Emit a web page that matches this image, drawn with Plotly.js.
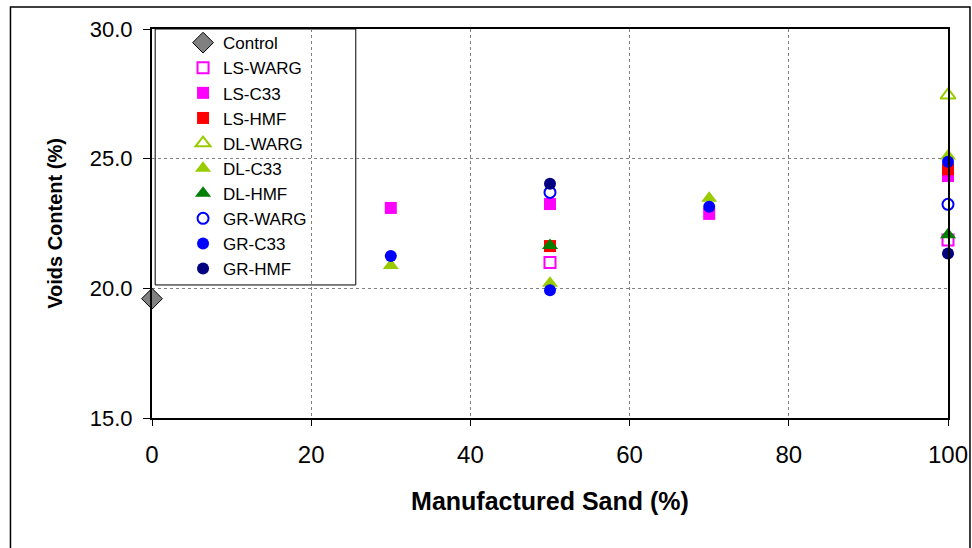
<!DOCTYPE html>
<html>
<head>
<meta charset="utf-8">
<script src="https://cdn.plot.ly/plotly-3.0.1.min.js"></script>
<style>html,body{margin:0;padding:0;background:#fff;}#chart{width:972px;height:548px;}</style>
</head>
<body>
<div id="chart"></div>
<script>
// Data
const seriesNames = ["Control","LS-WARG","LS-C33","LS-HMF","DL-WARG","DL-C33","DL-HMF","GR-WARG","GR-C33","GR-HMF"];
const controlX = [0];        const controlY = [19.6];
const lsWargX = [50, 100];   const lsWargY = [21.0, 21.86];
const lsC33X = [30, 50, 70, 100]; const lsC33Y = [23.1, 23.25, 22.87, 24.33];
const lsHmfX = [50, 100];    const lsHmfY = [21.63, 24.59];
const dlWargX = [100];       const dlWargY = [27.45];
const dlC33X = [30, 50, 70, 100]; const dlC33Y = [20.88, 20.2, 23.47, 25.1];
const dlHmfX = [50, 100];    const dlHmfY = [21.65, 22.07];
const grWargX = [50, 100];   const grWargY = [23.7, 23.24];
const grC33X = [30, 50, 70, 100]; const grC33Y = [21.25, 19.93, 23.15, 24.88];
const grHmfX = [50, 100];    const grHmfY = [24.03, 21.34];
const xTicks = [0, 20, 40, 60, 80, 100];
const yTicks = [15, 20, 25, 30];
const yTickLabels = ["15.0", "20.0", "25.0", "30.0"];

function tr(name, x, y, symbol, color, size, lineColor, lineWidth) {
  return {
    type: "scatter", mode: "markers", name: name, x: x, y: y, cliponaxis: false,
    marker: {symbol: symbol, color: color, size: size,
             line: {color: lineColor || color, width: lineWidth === undefined ? 0 : lineWidth}}
  };
}

const data = [
  tr(seriesNames[0], controlX, controlY, "diamond", "#808080", 16, "#000000", 1),
  tr(seriesNames[1], lsWargX, lsWargY, "square-open", "#FF00FF", 11, "#FF00FF", 2),
  tr(seriesNames[2], lsC33X, lsC33Y, "square", "#FF00FF", 12),
  tr(seriesNames[3], lsHmfX, lsHmfY, "square", "#FF0000", 12),
  tr(seriesNames[4], dlWargX, dlWargY, "triangle-up-open", "#99CC00", 13, "#99CC00", 2),
  tr(seriesNames[5], dlC33X, dlC33Y, "triangle-up", "#99CC00", 14),
  tr(seriesNames[6], dlHmfX, dlHmfY, "triangle-up", "#008000", 14),
  tr(seriesNames[7], grWargX, grWargY, "circle-open", "#0000FF", 11, "#0000FF", 2),
  tr(seriesNames[8], grC33X, grC33Y, "circle", "#0000FF", 12),
  tr(seriesNames[9], grHmfX, grHmfY, "circle", "#000080", 12)
];

const font = "'Liberation Sans', Arial, sans-serif";
const layout = {
  width: 972, height: 548,
  margin: {l: 152, r: 24, t: 29, b: 130},
  paper_bgcolor: "#ffffff", plot_bgcolor: "#ffffff",
  font: {family: font, color: "#000000", size: 20},
  showlegend: true,
  xaxis: {
    range: [0, 100], tickvals: xTicks, ticktext: xTicks.map(String),
    showgrid: true, gridcolor: "#808080", griddash: "dot", gridwidth: 1,
    showline: true, linecolor: "#000000", linewidth: 2, mirror: true,
    ticks: "outside", ticklen: 6, tickcolor: "#000000", tickwidth: 1,
    ticklabelstandoff: 8,
    tickfont: {size: 24, family: font}, zeroline: false,
    title: {text: "<b>Manufactured Sand (%)</b>", font: {size: 25, family: font}, standoff: 26}
  },
  yaxis: {
    range: [15, 30], tickvals: yTicks, ticktext: yTickLabels,
    showgrid: true, gridcolor: "#808080", griddash: "dot", gridwidth: 1,
    showline: true, linecolor: "#000000", linewidth: 2, mirror: true,
    ticks: "outside", ticklen: 7, tickcolor: "#000000", tickwidth: 1,
    ticklabelstandoff: 6,
    tickfont: {size: 22, family: font}, zeroline: false,
    title: {text: "<b>Voids Content (%)</b>", font: {size: 20, family: font}, standoff: 22}
  },
  legend: {
    x: 0.039, y: 1.01, xanchor: "left", yanchor: "top",
    bgcolor: "rgba(0,0,0,0)", borderwidth: 0,
    font: {size: 17, family: font, color: "#000000"},
    tracegroupgap: 0
  },
  shapes: [
    {type: "rect", xref: "paper", yref: "paper", x0: 0.004, x1: 0.256, y0: 0.342, y1: 1.0,
     line: {color: "#000000", width: 1}, fillcolor: "#ffffff", layer: "below"},
    {type: "rect", xref: "paper", yref: "paper", x0: -0.1778, x1: 1.0276, y0: -0.4, y1: 1.0566,
     line: {color: "#000000", width: 1.5}, fillcolor: "rgba(0,0,0,0)", layer: "above"}
  ]
};

Plotly.newPlot("chart", data, layout, {displayModeBar: false, staticPlot: true});
</script>
</body>
</html>
